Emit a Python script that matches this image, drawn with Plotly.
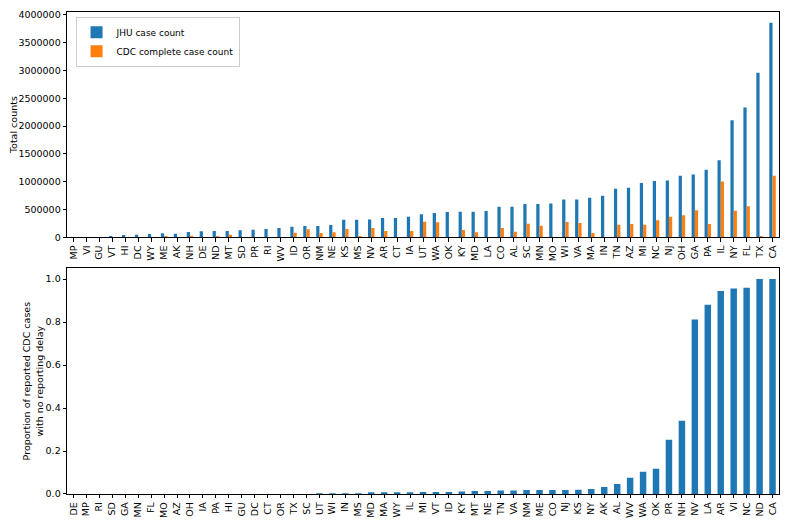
import plotly.graph_objects as go
from plotly.subplots import make_subplots

# top panel: states ordered by JHU count
states_top = ["MP", "VI", "GU", "VT", "HI", "DC", "WY", "ME", "AK", "NH",
              "DE", "ND", "MT", "SD", "PR", "RI", "WV", "ID", "OR", "NM",
              "NE", "KS", "MS", "NV", "AR", "CT", "IA", "UT", "WA", "OK",
              "KY", "MD", "LA", "CO", "AL", "SC", "MN", "MO", "WI", "VA",
              "MA", "IN", "TN", "AZ", "MI", "NC", "NJ", "OH", "GA", "PA",
              "IL", "NY", "FL", "TX", "CA"]
jhu_counts = [0, 0, 0, 22000, 41000, 47000, 59000, 72000, 65000, 95000,
              107000, 113000, 113000, 125000, 137000, 149000, 167000, 191000, 203000, 203000,
              221000, 316000, 316000, 322000, 346000, 346000, 370000, 412000, 436000, 454000,
              459000, 459000, 472000, 549000, 549000, 597000, 600000, 606000, 681000, 681000,
              711000, 746000, 872000, 890000, 974000, 1010000, 1022000, 1105000, 1130000, 1213000,
              1387000, 2104000, 2332000, 2960000, 3856000]
cdc_complete = [0, 0, 0, 5000, 0, 0, 0, 23000, 0, 29000,
                0, 17000, 47000, 0, 0, 0, 0, 83000, 143000, 77000,
                90000, 149000, 23000, 167000, 113000, 0, 113000, 280000, 269000, 0,
                131000, 90000, 0, 167000, 100000, 244000, 208000, 5000, 275000, 257000,
                78000, 0, 226000, 238000, 226000, 305000, 370000, 395000, 484000, 238000,
                1004000, 478000, 556000, 24000, 1105000]

# bottom panel: states ordered by share with no reporting delay
states_bottom = ["DE", "MP", "RI", "SD", "GA", "MN", "FL", "MO", "AZ", "OH",
                 "IA", "PA", "HI", "GU", "DC", "CT", "OR", "TX", "SC", "UT",
                 "WI", "IN", "MS", "MD", "MA", "WY", "IL", "MI", "VT", "ID",
                 "KY", "MT", "NE", "TN", "VA", "NM", "ME", "CO", "NJ", "KS",
                 "NY", "AK", "AL", "WV", "WA", "OK", "PR", "NH", "NV", "LA",
                 "AR", "VI", "NC", "ND", "CA"]
no_delay_share = [0, 0, 0, 0, 0, 0, 0, 0, 0, 0,
                  0, 0, 0, 0, 0, 0, 0, 0, 0, 0.001,
                  0.002, 0.003, 0.003, 0.005, 0.006, 0.008, 0.008, 0.009, 0.009, 0.009,
                  0.012, 0.014, 0.014, 0.016, 0.016, 0.019, 0.019, 0.019, 0.019, 0.02,
                  0.023, 0.033, 0.047, 0.076, 0.104, 0.117, 0.252, 0.341, 0.812, 0.88,
                  0.944, 0.956, 0.96, 1.0, 1.0]

BLUE = "#1f77b4"
ORANGE = "#ff7f0e"
FONT = "DejaVu Sans"

fig = make_subplots(rows=2, cols=1, vertical_spacing=0.06)

fig.add_trace(go.Bar(x=states_top, y=jhu_counts, name="JHU case count",
                     marker=dict(color=BLUE, line=dict(width=0))), row=1, col=1)
fig.add_trace(go.Bar(x=states_top, y=cdc_complete, name="CDC complete case count",
                     marker=dict(color=ORANGE, line=dict(width=0))), row=1, col=1)
fig.add_trace(go.Bar(x=states_bottom, y=no_delay_share, showlegend=False,
                     marker=dict(color=BLUE, line=dict(width=0))), row=2, col=1)

axis_style = dict(showline=True, linecolor="black", linewidth=0.8, mirror=True,
                  ticks="outside", ticklen=3.5, tickwidth=0.8, tickcolor="black",
                  showgrid=False, zeroline=False, automargin=False,
                  tickfont=dict(family=FONT, size=9.5, color="black"))

fig.update_xaxes(**axis_style, tickangle=-90, range=[-0.5, 54.5])
fig.update_yaxes(**axis_style)

fig.update_yaxes(row=1, col=1, range=[0, 4050000], tickmode="array",
                 tickvals=[0, 500000, 1000000, 1500000, 2000000, 2500000, 3000000, 3500000, 4000000],
                 ticktext=["0", "500000", "1000000", "1500000", "2000000", "2500000",
                           "3000000", "3500000", "4000000"],
                 title=dict(text="Total counts", font=dict(family=FONT, size=9.5, color="black"),
                            standoff=12))
fig.update_yaxes(row=2, col=1, range=[0, 1.05], tickvals=[0, 0.2, 0.4, 0.6, 0.8, 1.0],
                 tickformat=".1f",
                 title=dict(text="Proportion of reported CDC cases<br>with no reporting delay",
                            font=dict(family=FONT, size=9.5, color="black"), standoff=0))

# the page puts the figure 8px in from the top-left corner, so size it to fit the window
fig.update_layout(
    width=773, height=510,
    margin=dict(l=59, r=2, t=4, b=24),
    barmode="group", bargap=0.5, bargroupgap=0,
    plot_bgcolor="white", paper_bgcolor="white",
    font=dict(family=FONT, size=9.5, color="black"),
    yaxis=dict(domain=[0.5326, 1.0]),
    yaxis2=dict(domain=[0.0, 0.4683]),
    legend=dict(x=0.012, y=0.99, xanchor="left", yanchor="top",
                bgcolor="rgba(255,255,255,0.8)", bordercolor="#cccccc", borderwidth=1,
                font=dict(family=FONT, size=9), tracegroupgap=0, itemwidth=30),
)

fig.write_html("out.html")
